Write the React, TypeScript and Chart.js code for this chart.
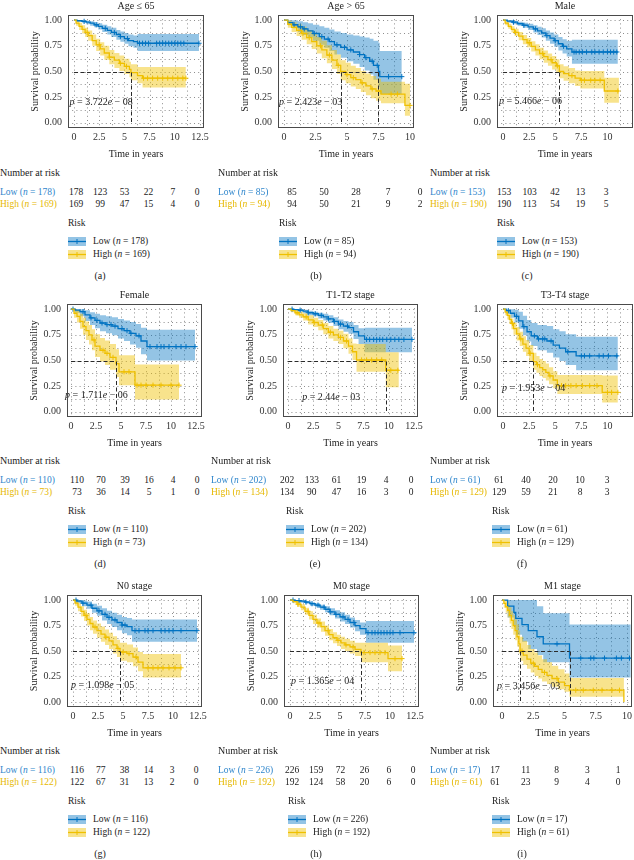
import React, { useEffect, useRef } from "react";
import { Chart, registerables } from "chart.js";

Chart.register(...registerables);

// ---------------- data ----------------
const panelTitles = ["Age ≤ 65", "Age > 65", "Male", "Female", "T1-T2 stage", "T3-T4 stage", "N0 stage", "M0 stage", "M1 stage"];
const panelLetters = ["(a)", "(b)", "(c)", "(d)", "(e)", "(f)", "(g)", "(h)", "(i)"];
const pMantissa = ["3.722", "2.423", "5.466", "1.711", "2.44", "1.953", "1.098", "1.365", "3.456"];
const pExponent = ["08", "03", "06", "06", "03", "04", "05", "04", "03"];
const pX = [-0.45, -0.4, -0.4, -0.6, 1.4, -0.1, -0.2, 0.1, -0.4];
const pY = [0.2, 0.2, 0.21, 0.165, 0.14, 0.23, 0.165, 0.2, 0.15];
const lowN = [178, 85, 153, 110, 202, 61, 116, 226, 17];
const highN = [169, 94, 190, 73, 134, 129, 122, 192, 61];
const xTickLong = [0, 2.5, 5, 7.5, 10, 12.5];
const xTickShort = [0, 2.5, 5, 7.5, 10];
const xTicks = [xTickLong, xTickShort, xTickShort, xTickLong, xTickLong, xTickShort, xTickLong, xTickLong, xTickShort];
const yTicks = [0, 0.25, 0.5, 0.75, 1];
const lowAtRisk = [
  [178, 123, 53, 22, 7, 0], [85, 50, 28, 7, 0], [153, 103, 42, 13, 3],
  [110, 70, 39, 16, 4, 0], [202, 133, 61, 19, 4, 0], [61, 40, 20, 10, 3],
  [116, 77, 38, 14, 3, 0], [226, 159, 72, 26, 6, 0], [17, 11, 8, 3, 1],
];
const highAtRisk = [
  [169, 99, 47, 15, 4, 0], [94, 50, 21, 9, 2], [190, 113, 54, 19, 5],
  [73, 36, 14, 5, 1, 0], [134, 90, 47, 16, 3, 0], [129, 59, 21, 8, 3],
  [122, 67, 31, 13, 2, 0], [192, 124, 58, 20, 6, 0], [61, 23, 9, 4, 0],
];
const lowEnd = [12.4, 9.35, 11.0, 12.4, 12.3, 11.0, 12.4, 12.4, 10.3];
const highEnd = [11.1, 10.0, 11.1, 10.8, 11.0, 11.0, 10.8, 11.2, 9.75];

// (a) Age <= 65
const aLowT = [0, 0.3, 0.8, 1.2, 1.6, 2.0, 2.4, 2.8, 3.3, 3.7, 4.2, 4.6, 5.0, 5.4, 5.9, 6.3];
const aLowS = [1, 0.994, 0.988, 0.98, 0.97, 0.955, 0.94, 0.92, 0.9, 0.88, 0.86, 0.84, 0.82, 0.8, 0.79, 0.775];
const aLowU = [1, 1, 1, 0.995, 0.99, 0.98, 0.97, 0.955, 0.94, 0.925, 0.905, 0.89, 0.875, 0.86, 0.85, 0.865];
const aLowL = [1, 0.985, 0.975, 0.96, 0.945, 0.93, 0.91, 0.885, 0.86, 0.835, 0.81, 0.79, 0.77, 0.745, 0.73, 0.7];
const aLowC = [1.0, 2.2, 3.1, 4.0, 4.6, 5.3, 6.5, 6.8, 7.1, 7.4, 8.2, 8.5, 8.8, 9.1, 9.4, 9.7, 10.0, 10.3, 10.6, 10.9, 12.4];
const aHighT = [0, 0.2, 0.5, 0.8, 1.1, 1.4, 1.8, 2.2, 2.6, 3.0, 3.5, 4.0, 4.5, 5.0, 5.5, 5.65, 6.3, 6.8];
const aHighS = [1, 0.97, 0.94, 0.91, 0.88, 0.85, 0.8, 0.76, 0.72, 0.68, 0.64, 0.61, 0.58, 0.55, 0.52, 0.49, 0.46, 0.435];
const aHighU = [1, 0.995, 0.975, 0.95, 0.925, 0.9, 0.86, 0.82, 0.785, 0.75, 0.71, 0.68, 0.655, 0.625, 0.595, 0.57, 0.545, 0.545];
const aHighL = [1, 0.945, 0.905, 0.87, 0.835, 0.8, 0.75, 0.7, 0.655, 0.615, 0.57, 0.535, 0.505, 0.475, 0.445, 0.415, 0.385, 0.345];
const aHighC = [1.3, 2.5, 3.5, 4.6, 5.2, 6.9, 7.3, 7.8, 8.3, 8.8, 9.3, 9.8, 10.3, 10.8, 11.1];

// (b) Age > 65
const bLowT = [0, 0.3, 0.7, 1.1, 1.5, 1.9, 2.3, 2.8, 3.2, 3.6, 4.0, 4.5, 5.0, 5.5, 6.0, 6.4, 6.8, 7.1, 7.5, 7.6];
const bLowS = [1, 0.975, 0.955, 0.935, 0.915, 0.895, 0.87, 0.84, 0.815, 0.79, 0.76, 0.735, 0.71, 0.69, 0.665, 0.635, 0.6, 0.56, 0.5, 0.45];
const bLowU = [1, 1, 1, 0.99, 0.98, 0.97, 0.955, 0.94, 0.925, 0.91, 0.89, 0.875, 0.86, 0.85, 0.84, 0.83, 0.82, 0.8, 0.78, 0.7];
const bLowL = [1, 0.95, 0.92, 0.885, 0.855, 0.83, 0.8, 0.76, 0.73, 0.7, 0.665, 0.635, 0.6, 0.575, 0.545, 0.51, 0.47, 0.42, 0.35, 0.28];
const bLowC = [0.8, 1.3, 1.6, 2.4, 3.0, 3.5, 4.2, 4.8, 5.3, 6.0, 6.5, 7.0, 7.4, 8.3, 9.35];
const bHighT = [0, 0.3, 0.6, 1.0, 1.4, 1.8, 2.2, 2.6, 3.0, 3.4, 3.8, 4.2, 4.5, 4.9, 5.3, 5.7, 6.1, 6.5, 6.9, 7.3, 7.7, 9.6];
const bHighS = [1, 0.96, 0.93, 0.9, 0.87, 0.83, 0.79, 0.75, 0.71, 0.66, 0.61, 0.56, 0.5, 0.47, 0.44, 0.42, 0.39, 0.36, 0.33, 0.31, 0.28, 0.17];
const bHighU = [1, 0.995, 0.98, 0.96, 0.935, 0.905, 0.87, 0.835, 0.8, 0.755, 0.71, 0.665, 0.61, 0.585, 0.555, 0.535, 0.505, 0.48, 0.455, 0.43, 0.4, 0.38];
const bHighL = [1, 0.925, 0.885, 0.845, 0.81, 0.765, 0.72, 0.675, 0.63, 0.58, 0.525, 0.475, 0.415, 0.385, 0.355, 0.33, 0.3, 0.27, 0.24, 0.215, 0.19, 0.07];
const bHighC = [1.5, 2.0, 2.9, 3.6, 4.3, 5.0, 5.5, 6.2, 7.0, 7.5, 8.5, 9.0, 10.0];

// (c) Male
const cLowT = [0, 0.4, 0.9, 1.4, 1.9, 2.4, 2.9, 3.3, 3.7, 4.1, 4.5, 4.9, 5.3, 5.7, 6.1, 6.6];
const cLowS = [1, 0.99, 0.98, 0.965, 0.95, 0.935, 0.915, 0.895, 0.875, 0.85, 0.825, 0.8, 0.77, 0.745, 0.72, 0.69];
const cLowU = [1, 1, 0.995, 0.985, 0.975, 0.965, 0.95, 0.935, 0.92, 0.9, 0.88, 0.86, 0.835, 0.815, 0.8, 0.81];
const cLowL = [1, 0.975, 0.96, 0.945, 0.925, 0.905, 0.88, 0.855, 0.83, 0.8, 0.77, 0.74, 0.705, 0.675, 0.645, 0.575];
const cLowC = [1.0, 2.0, 3.1, 4.2, 5.0, 5.8, 6.8, 7.0, 7.3, 7.6, 8.0, 8.5, 8.8, 9.2, 9.6, 10.0, 10.3, 10.6, 10.9];
const cHighT = [0, 0.2, 0.5, 0.8, 1.1, 1.5, 1.9, 2.3, 2.7, 3.1, 3.5, 3.9, 4.3, 4.7, 5.1, 5.4, 5.8, 6.3, 6.9, 7.4, 9.7];
const cHighS = [1, 0.97, 0.94, 0.91, 0.88, 0.845, 0.81, 0.78, 0.745, 0.71, 0.675, 0.645, 0.615, 0.585, 0.555, 0.5, 0.48, 0.46, 0.435, 0.415, 0.31];
const cHighU = [1, 0.99, 0.965, 0.94, 0.915, 0.885, 0.855, 0.825, 0.795, 0.765, 0.73, 0.705, 0.675, 0.65, 0.62, 0.57, 0.55, 0.535, 0.51, 0.505, 0.44];
const cHighL = [1, 0.95, 0.915, 0.88, 0.845, 0.805, 0.765, 0.735, 0.695, 0.655, 0.62, 0.585, 0.555, 0.52, 0.49, 0.435, 0.41, 0.385, 0.36, 0.335, 0.195];
const cHighC = [1.2, 2.5, 3.8, 4.6, 5.2, 6.6, 7.5, 7.8, 8.4, 8.8, 9.3, 11.0];

// (d) Female
const dLowT = [0, 0.4, 0.9, 1.4, 1.9, 2.4, 2.9, 3.5, 4.1, 4.7, 5.3, 5.9, 6.5, 7.0, 7.6];
const dLowS = [1, 0.99, 0.975, 0.945, 0.915, 0.89, 0.865, 0.85, 0.835, 0.81, 0.79, 0.765, 0.74, 0.69, 0.635];
const dLowU = [1, 1, 1, 0.99, 0.97, 0.955, 0.94, 0.93, 0.92, 0.905, 0.89, 0.875, 0.855, 0.82, 0.8];
const dLowL = [1, 0.965, 0.93, 0.885, 0.845, 0.815, 0.785, 0.765, 0.745, 0.715, 0.69, 0.655, 0.625, 0.56, 0.5];
const dLowC = [0.2, 1.2, 2.0, 2.6, 3.1, 3.6, 4.0, 4.4, 5.1, 5.6, 6.0, 6.8, 7.9, 8.6, 9.0, 9.3, 9.8, 10.5, 11.0, 11.5, 12.4];
const dHighT = [0, 0.3, 0.6, 0.9, 1.2, 1.5, 1.8, 2.1, 2.4, 2.9, 3.4, 3.9, 4.5, 4.8, 6.4];
const dHighS = [1, 0.96, 0.93, 0.88, 0.83, 0.79, 0.75, 0.7, 0.64, 0.6, 0.57, 0.53, 0.47, 0.39, 0.26];
const dHighU = [1, 1, 0.99, 0.955, 0.915, 0.88, 0.845, 0.805, 0.755, 0.72, 0.695, 0.66, 0.61, 0.55, 0.46];
const dHighL = [1, 0.915, 0.87, 0.81, 0.75, 0.7, 0.655, 0.6, 0.535, 0.49, 0.455, 0.41, 0.34, 0.26, 0.12];
const dHighC = [2.3, 3.2, 3.6, 4.2, 5.3, 5.8, 6.6, 7.0, 7.5, 8.2, 9.0, 10.0, 10.8];

// (e) T1-T2 stage
const eLowT = [0, 0.5, 1.0, 1.5, 2.0, 2.5, 3.0, 3.5, 4.0, 4.5, 5.0, 5.5, 6.0, 6.5, 7.0, 7.6];
const eLowS = [1, 0.995, 0.99, 0.98, 0.965, 0.955, 0.94, 0.925, 0.905, 0.88, 0.855, 0.835, 0.82, 0.78, 0.74, 0.705];
const eLowU = [1, 1, 1, 0.995, 0.985, 0.975, 0.965, 0.955, 0.94, 0.92, 0.9, 0.885, 0.875, 0.845, 0.815, 0.82];
const eLowL = [1, 0.985, 0.975, 0.96, 0.94, 0.93, 0.91, 0.89, 0.865, 0.835, 0.805, 0.78, 0.76, 0.71, 0.66, 0.58];
const eLowC = [0.4, 1.2, 2.0, 2.7, 3.3, 4.0, 4.6, 5.2, 5.9, 7.8, 8.1, 8.5, 8.8, 9.1, 9.4, 9.8, 10.2, 10.6, 11.0, 11.5, 12.3];
const eHighT = [0, 0.3, 0.7, 1.1, 1.5, 2.0, 2.5, 3.0, 3.5, 4.0, 4.5, 5.0, 5.5, 6.0, 6.4, 6.8, 9.7];
const eHighS = [1, 0.985, 0.965, 0.945, 0.925, 0.895, 0.87, 0.845, 0.81, 0.775, 0.75, 0.725, 0.69, 0.64, 0.585, 0.505, 0.405];
const eHighU = [1, 1, 0.99, 0.975, 0.96, 0.94, 0.915, 0.895, 0.865, 0.835, 0.81, 0.79, 0.76, 0.715, 0.665, 0.66, 0.58];
const eHighL = [1, 0.97, 0.94, 0.915, 0.89, 0.85, 0.825, 0.795, 0.755, 0.715, 0.69, 0.66, 0.62, 0.565, 0.505, 0.39, 0.24];
const eHighC = [0.9, 1.8, 2.6, 3.4, 4.2, 5.2, 5.8, 7.3, 7.8, 8.3, 8.8, 9.3, 10.2, 10.9];

// (f) T3-T4 stage
const fLowT = [0, 0.3, 0.7, 1.1, 1.5, 1.9, 2.3, 2.7, 3.3, 4.2, 4.8, 5.4, 6.0, 7.0];
const fLowS = [1, 0.985, 0.96, 0.93, 0.885, 0.83, 0.78, 0.74, 0.71, 0.69, 0.65, 0.62, 0.585, 0.545];
const fLowU = [1, 1, 1, 0.995, 0.975, 0.935, 0.895, 0.865, 0.845, 0.835, 0.805, 0.785, 0.755, 0.73];
const fLowL = [1, 0.955, 0.915, 0.87, 0.81, 0.745, 0.685, 0.64, 0.6, 0.575, 0.53, 0.495, 0.455, 0.405];
const fLowC = [0.5, 1.3, 2.0, 3.0, 3.4, 3.8, 4.0, 4.6, 6.2, 7.5, 7.8, 8.3, 9.2, 9.6, 10.1, 10.9];
const fHighT = [0, 0.2, 0.4, 0.6, 0.8, 1.0, 1.3, 1.6, 1.9, 2.2, 2.5, 2.9, 3.2, 3.5, 3.8, 4.1, 4.4, 4.8, 5.2, 9.5];
const fHighS = [1, 0.97, 0.94, 0.9, 0.86, 0.81, 0.76, 0.71, 0.66, 0.62, 0.57, 0.49, 0.46, 0.43, 0.41, 0.385, 0.35, 0.31, 0.255, 0.19];
const fHighU = [1, 0.995, 0.975, 0.945, 0.91, 0.87, 0.825, 0.78, 0.735, 0.7, 0.65, 0.575, 0.545, 0.515, 0.495, 0.47, 0.435, 0.395, 0.36, 0.355];
const fHighL = [1, 0.94, 0.9, 0.855, 0.805, 0.75, 0.695, 0.64, 0.585, 0.545, 0.495, 0.41, 0.38, 0.35, 0.33, 0.305, 0.27, 0.23, 0.175, 0.09];
const fHighC = [0.9, 1.7, 2.6, 3.3, 4.5, 5.6, 6.0, 6.5, 7.0, 7.6, 8.3, 9.0, 10.0, 10.4, 11.0];

// (g) N0 stage
const gLowT = [0, 0.4, 0.9, 1.4, 1.9, 2.4, 2.9, 3.4, 3.9, 4.4, 4.9, 5.4, 5.9];
const gLowS = [1, 0.99, 0.97, 0.95, 0.92, 0.895, 0.86, 0.83, 0.805, 0.78, 0.755, 0.74, 0.7];
const gLowU = [1, 1, 0.995, 0.985, 0.965, 0.945, 0.92, 0.895, 0.875, 0.855, 0.835, 0.825, 0.81];
const gLowL = [1, 0.97, 0.94, 0.915, 0.875, 0.845, 0.8, 0.765, 0.735, 0.705, 0.675, 0.655, 0.59];
const gLowC = [0.3, 1.0, 1.8, 2.6, 3.2, 3.6, 4.2, 4.9, 5.2, 6.2, 6.6, 7.2, 7.5, 8.0, 8.8, 9.2, 9.6, 10.0, 10.8, 12.4];
const gHighT = [0, 0.2, 0.5, 0.8, 1.1, 1.4, 1.7, 2.0, 2.4, 2.8, 3.2, 3.6, 4.0, 4.4, 4.7, 5.4, 6.0, 6.5, 7.0];
const gHighS = [1, 0.97, 0.93, 0.89, 0.85, 0.81, 0.77, 0.735, 0.7, 0.665, 0.635, 0.6, 0.56, 0.525, 0.49, 0.475, 0.44, 0.39, 0.335];
const gHighU = [1, 0.995, 0.97, 0.94, 0.905, 0.87, 0.835, 0.8, 0.77, 0.74, 0.71, 0.68, 0.645, 0.61, 0.58, 0.565, 0.535, 0.49, 0.47];
const gHighL = [1, 0.945, 0.89, 0.84, 0.795, 0.75, 0.705, 0.67, 0.63, 0.59, 0.56, 0.52, 0.475, 0.44, 0.405, 0.39, 0.35, 0.3, 0.24];
const gHighC = [1.3, 2.2, 3.3, 4.5, 5.0, 5.6, 6.3, 7.5, 8.0, 8.5, 9.0, 9.6, 10.2, 10.8];

// (h) M0 stage
const hLowT = [0, 0.5, 1.0, 1.5, 2.0, 2.5, 3.0, 3.5, 4.0, 4.5, 5.0, 5.5, 6.0, 6.5, 7.0, 7.6];
const hLowS = [1, 0.995, 0.99, 0.98, 0.965, 0.95, 0.93, 0.91, 0.885, 0.86, 0.835, 0.81, 0.78, 0.75, 0.72, 0.68];
const hLowU = [1, 1, 1, 0.99, 0.98, 0.97, 0.955, 0.94, 0.92, 0.9, 0.88, 0.855, 0.83, 0.805, 0.78, 0.795];
const hLowL = [1, 0.985, 0.975, 0.965, 0.945, 0.93, 0.905, 0.88, 0.85, 0.82, 0.79, 0.765, 0.73, 0.695, 0.66, 0.58];
const hLowC = [0.3, 0.9, 1.6, 2.2, 2.8, 3.4, 4.0, 4.6, 5.3, 5.8, 6.4, 7.8, 8.2, 8.5, 8.8, 9.1, 9.4, 9.7, 10.0, 10.3, 11.0, 12.4];
const hHighT = [0, 0.3, 0.7, 1.1, 1.5, 1.9, 2.3, 2.7, 3.1, 3.5, 3.9, 4.3, 4.7, 5.1, 5.5, 6.0, 6.5, 7.1, 9.8];
const hHighS = [1, 0.985, 0.96, 0.93, 0.89, 0.85, 0.81, 0.775, 0.74, 0.7, 0.66, 0.63, 0.605, 0.58, 0.56, 0.54, 0.515, 0.485, 0.425];
const hHighU = [1, 1, 0.985, 0.96, 0.925, 0.89, 0.855, 0.82, 0.79, 0.75, 0.715, 0.685, 0.66, 0.64, 0.62, 0.6, 0.58, 0.58, 0.555];
const hHighL = [1, 0.97, 0.935, 0.9, 0.855, 0.81, 0.765, 0.73, 0.69, 0.65, 0.605, 0.575, 0.55, 0.52, 0.5, 0.475, 0.45, 0.39, 0.3];
const hHighC = [0.8, 1.8, 2.9, 3.8, 4.8, 5.6, 6.3, 7.4, 8.0, 8.5, 9.0, 9.5, 10.5, 11.2];

// (i) M1 stage
const iLowT = [0, 0.45, 0.95, 1.1, 1.6, 2.1, 2.8, 3.3, 5.4];
const iLowS = [1, 0.94, 0.88, 0.82, 0.76, 0.7, 0.64, 0.57, 0.43];
const iLowU = [1, 1, 1, 1, 1, 1, 0.94, 0.87, 0.76];
const iLowL = [1, 0.83, 0.74, 0.66, 0.59, 0.52, 0.46, 0.39, 0.24];
const iLowC = [4.4, 6.3, 7.1, 7.35, 8.2, 9.15, 9.55, 10.2];
const iHighT = [0, 0.15, 0.3, 0.45, 0.6, 0.75, 0.9, 1.05, 1.2, 1.35, 1.45, 1.7, 2.0, 2.3, 2.6, 2.9, 3.2, 3.6, 4.0, 4.5, 5.0, 5.4, 9.75];
const iHighS = [1, 0.967, 0.934, 0.9, 0.85, 0.8, 0.75, 0.7, 0.64, 0.57, 0.5, 0.46, 0.42, 0.38, 0.35, 0.32, 0.29, 0.26, 0.23, 0.195, 0.16, 0.115, 0];
const iHighU = [1, 1, 0.99, 0.97, 0.93, 0.89, 0.85, 0.81, 0.76, 0.7, 0.64, 0.6, 0.56, 0.52, 0.485, 0.455, 0.42, 0.39, 0.355, 0.32, 0.28, 0.235, 0];
const iHighL = [1, 0.925, 0.875, 0.83, 0.77, 0.715, 0.66, 0.605, 0.545, 0.475, 0.405, 0.365, 0.325, 0.29, 0.255, 0.23, 0.2, 0.175, 0.15, 0.125, 0.1, 0.05, 0];
const iHighC = [1.6, 2.5, 3.4, 4.4, 5.9, 6.5, 7.3, 8.0, 8.8, 9.4];

const lowT = [aLowT, bLowT, cLowT, dLowT, eLowT, fLowT, gLowT, hLowT, iLowT];
const lowS = [aLowS, bLowS, cLowS, dLowS, eLowS, fLowS, gLowS, hLowS, iLowS];
const lowU = [aLowU, bLowU, cLowU, dLowU, eLowU, fLowU, gLowU, hLowU, iLowU];
const lowL = [aLowL, bLowL, cLowL, dLowL, eLowL, fLowL, gLowL, hLowL, iLowL];
const lowC = [aLowC, bLowC, cLowC, dLowC, eLowC, fLowC, gLowC, hLowC, iLowC];
const highT = [aHighT, bHighT, cHighT, dHighT, eHighT, fHighT, gHighT, hHighT, iHighT];
const highS = [aHighS, bHighS, cHighS, dHighS, eHighS, fHighS, gHighS, hHighS, iHighS];
const highU = [aHighU, bHighU, cHighU, dHighU, eHighU, fHighU, gHighU, hHighU, iHighU];
const highL = [aHighL, bHighL, cHighL, dHighL, eHighL, fHighL, gHighL, hHighL, iHighL];
const highC = [aHighC, bHighC, cHighC, dHighC, eHighC, fHighC, gHighC, hHighC, iHighC];

// ---------------- layout & style ----------------
const FONT = '"Liberation Serif", "Times New Roman", "DejaVu Serif", serif';
const LOW_LINE = "#0073C2";
const HIGH_LINE = "#EFC000";
const LOW_FILL = "rgba(0,115,194,0.42)";
const HIGH_FILL = "rgba(239,192,0,0.45)";
const LOW_TEXT = "#2f86cc";
const HIGH_TEXT = "#e6b800";
const TEXT = "#222";

// frame [left, top, right, bottom] in page pixels
const frames = [
  [68, 15, 204, 128], [278, 15, 414, 128], [497, 15, 633, 128],
  [67, 304, 202, 417], [283, 304, 418, 417], [497, 304, 633, 417],
  [67, 595, 202, 707], [284, 595, 419, 707], [493, 595, 632, 707],
];
const xRanges = [
  [-0.6, 12.9], [-0.48, 10.32], [-0.58, 12.45],
  [-0.4, 13.1], [-0.5, 12.9], [-0.58, 12.45],
  [-0.6, 12.9], [-0.6, 12.9], [-0.72, 10.4],
];
const rowTop = [0, 288, 578];
const tableLabelX = [0, 218, 430, 0, 211, 430, 0, 218, 430];
const tableX0 = [76, 292, 504, 77, 287, 499, 77, 292, 495];
const tableStep = [24.2, 32, 25.5, 24, 24.8, 27, 23.8, 24.2, 30.8];
const legendX = [68, 279, 497, 68, 286, 492, 68, 288, 492];
const captionX = [100, 316, 527, 100, 315, 522, 100, 316, 522];

const Y_AXIS_W = 68;
const PAD_TOP = 20;
const PAD_RIGHT = 14;
const X_AXIS_H = 20;
const PAD_BOTTOM = 16;

function stepAt(ts: number[], ss: number[], t: number) {
  let v = ss[0];
  for (let k = 0; k < ts.length; k++) {
    if (ts[k] <= t) v = ss[k];
    else break;
  }
  return v;
}

function medianOf(ts: number[], ss: number[]) {
  for (let k = 0; k < ts.length; k++) if (ss[k] <= 0.5) return ts[k];
  return null;
}

function curvePts(ts: number[], vs: number[], end: number) {
  const pts = ts.map((t, k) => ({ x: t, y: vs[k] }));
  pts.push({ x: end, y: vs[vs.length - 1] });
  return pts;
}

function buildConfig(i: number): any {
  const [xmin, xmax] = xRanges[i];
  const majors = xTicks[i];
  const censor = (cs: number[], ts: number[], ss: number[]) => cs.map((c) => ({ x: c, y: stepAt(ts, ss, c) }));
  const band = { pointRadius: 0, borderWidth: 0, borderColor: "transparent", stepped: "before" };
  const medians = [medianOf(lowT[i], lowS[i]), medianOf(highT[i], highS[i])].filter((m) => m !== null) as number[];

  const plugin = {
    id: "kmPanel",
    beforeDraw(chart: any) {
      const { ctx, chartArea: a, scales } = chart;
      const x = scales.x, y = scales.y;
      ctx.save();
      ctx.beginPath();
      ctx.rect(a.left, a.top, a.right - a.left, a.bottom - a.top);
      ctx.clip();
      ctx.strokeStyle = "#8c8c8c";
      ctx.lineWidth = 1;
      ctx.setLineDash([1, 3.2]);
      for (let k = 0; k * 1.25 <= xmax; k++) {
        const px = Math.round(x.getPixelForValue(k * 1.25)) + 0.5;
        ctx.beginPath();
        ctx.moveTo(px, a.top);
        ctx.lineTo(px, a.bottom);
        ctx.stroke();
      }
      for (let k = 0; k <= 8; k++) {
        const py = Math.round(y.getPixelForValue(k * 0.125)) + 0.5;
        ctx.beginPath();
        ctx.moveTo(a.left, py);
        ctx.lineTo(a.right, py);
        ctx.stroke();
      }
      ctx.restore();
    },
    afterDatasetsDraw(chart: any) {
      const { ctx, scales } = chart;
      const x = scales.x, y = scales.y;
      ctx.save();
      if (medians.length) {
        ctx.strokeStyle = "#2a2a2a";
        ctx.lineWidth = 1;
        ctx.setLineDash([4, 2.5]);
        const y50 = Math.round(y.getPixelForValue(0.5)) + 0.5;
        ctx.beginPath();
        ctx.moveTo(x.getPixelForValue(0), y50);
        ctx.lineTo(x.getPixelForValue(Math.max(...medians)), y50);
        ctx.stroke();
        for (const m of medians) {
          const px = Math.round(x.getPixelForValue(m)) + 0.5;
          ctx.beginPath();
          ctx.moveTo(px, y50);
          ctx.lineTo(px, y.getPixelForValue(0));
          ctx.stroke();
        }
      }
      ctx.setLineDash([]);
      const parts: [string, boolean][] = [["p", true], [" = " + pMantissa[i], false], ["e", true], [" − " + pExponent[i], false]];
      let px = x.getPixelForValue(pX[i]);
      const py = y.getPixelForValue(pY[i]);
      ctx.fillStyle = TEXT;
      ctx.textBaseline = "middle";
      ctx.textAlign = "left";
      for (const [s, it] of parts) {
        ctx.font = (it ? "italic " : "") + "10px " + FONT;
        ctx.fillText(s, px, py);
        px += ctx.measureText(s).width;
      }
      ctx.restore();
    },
    afterDraw(chart: any) {
      const { ctx, chartArea: a } = chart;
      ctx.save();
      ctx.strokeStyle = "#4a4a4a";
      ctx.lineWidth = 1;
      ctx.strokeRect(a.left + 0.5, a.top + 0.5, a.right - a.left - 1, a.bottom - a.top - 1);
      ctx.fillStyle = TEXT;
      ctx.font = "10px " + FONT;
      ctx.textAlign = "center";
      ctx.textBaseline = "middle";
      const cx = (a.left + a.right) / 2;
      ctx.fillText(panelTitles[i], cx, a.top - 9);
      ctx.fillText("Time in years", cx, a.bottom + 26);
      ctx.translate(a.left - 33, (a.top + a.bottom) / 2);
      ctx.rotate(-Math.PI / 2);
      ctx.fillText("Survival probability", 0, 0);
      ctx.restore();
    },
  };

  return {
    type: "line",
    data: {
      datasets: [
        { data: censor(highC[i], highT[i], highS[i]), showLine: false, pointStyle: "cross", pointRadius: 2.6, pointBorderWidth: 1, pointBorderColor: HIGH_LINE, pointBackgroundColor: HIGH_LINE, borderColor: HIGH_LINE },
        { data: curvePts(highT[i], highS[i], highEnd[i]), borderColor: HIGH_LINE, borderWidth: 1.3, pointRadius: 0, stepped: "before", fill: false },
        { data: censor(lowC[i], lowT[i], lowS[i]), showLine: false, pointStyle: "cross", pointRadius: 2.6, pointBorderWidth: 1, pointBorderColor: LOW_LINE, pointBackgroundColor: LOW_LINE, borderColor: LOW_LINE },
        { data: curvePts(lowT[i], lowS[i], lowEnd[i]), borderColor: LOW_LINE, borderWidth: 1.3, pointRadius: 0, stepped: "before", fill: false },
        { ...band, data: curvePts(highT[i], highU[i], highEnd[i]), fill: false },
        { ...band, data: curvePts(highT[i], highL[i], highEnd[i]), fill: "-1", backgroundColor: HIGH_FILL },
        { ...band, data: curvePts(lowT[i], lowU[i], lowEnd[i]), fill: false },
        { ...band, data: curvePts(lowT[i], lowL[i], lowEnd[i]), fill: "-1", backgroundColor: LOW_FILL },
      ],
    },
    options: {
      animation: false,
      responsive: false,
      maintainAspectRatio: false,
      events: [],
      devicePixelRatio: 1,
      layout: { padding: { left: 0, top: PAD_TOP, right: PAD_RIGHT, bottom: PAD_BOTTOM } },
      plugins: {
        legend: { display: false },
        tooltip: { enabled: false },
        title: { display: false },
        filler: { drawTime: "beforeDatasetsDraw", propagate: false },
      },
      scales: {
        x: {
          type: "linear",
          min: xmin,
          max: xmax,
          grid: { display: false, drawTicks: false, tickLength: 0 },
          border: { display: false },
          afterBuildTicks: (s: any) => {
            s.ticks = majors.map((v) => ({ value: v }));
          },
          afterFit: (s: any) => {
            s.height = X_AXIS_H;
            s.paddingLeft = 0;
            s.paddingRight = 0;
          },
          ticks: {
            autoSkip: false,
            maxRotation: 0,
            padding: 3,
            color: "#333",
            font: { family: FONT, size: 10 },
            callback: (v: any) => String(v),
          },
        },
        y: {
          type: "linear",
          min: -0.05,
          max: 1.05,
          grid: { display: false, drawTicks: false, tickLength: 0 },
          border: { display: false },
          afterBuildTicks: (s: any) => {
            s.ticks = yTicks.map((v) => ({ value: v }));
          },
          afterFit: (s: any) => {
            s.width = Y_AXIS_W;
            s.paddingTop = 0;
            s.paddingBottom = 0;
          },
          ticks: {
            autoSkip: false,
            padding: 6,
            color: "#333",
            font: { family: FONT, size: 10 },
            callback: (v: any) => Number(v).toFixed(2),
          },
        },
      },
    },
    plugins: [plugin],
  };
}

function Txt(props: { x: number; y: number; color?: string; center?: boolean; size?: number; children: any }) {
  const { x, y, color, center, size, children } = props;
  return (
    <div
      style={{
        position: "absolute",
        left: x,
        top: y - 7,
        lineHeight: "14px",
        height: 14,
        fontSize: size || 9.5,
        fontFamily: FONT,
        color: color || TEXT,
        whiteSpace: "nowrap",
        transform: center ? "translateX(-50%)" : undefined,
      }}
    >
      {children}
    </div>
  );
}

function Swatch(props: { x: number; y: number; fill: string; line: string }) {
  const { x, y, fill, line } = props;
  return (
    <svg width={18} height={9} style={{ position: "absolute", left: x, top: y - 4.5 }}>
      <rect x={0} y={0} width={18} height={9} fill={fill} />
      <line x1={0} y1={4.5} x2={18} y2={4.5} stroke={line} strokeWidth={1.3} />
      <line x1={9} y1={2} x2={9} y2={7} stroke={line} strokeWidth={1} />
    </svg>
  );
}

function KMPanel({ i }: { i: number }) {
  const ref = useRef<HTMLCanvasElement | null>(null);
  const [L, T, R, B] = frames[i];
  const cw = Y_AXIS_W + (R - L) + PAD_RIGHT;
  const ch = PAD_TOP + (B - T) + X_AXIS_H + PAD_BOTTOM;

  useEffect(() => {
    const canvas = ref.current;
    if (!canvas) return;
    const chart = new Chart(canvas, buildConfig(i));
    return () => chart.destroy();
  }, [i]);

  const y0 = rowTop[Math.floor(i / 3)];
  const lx = tableLabelX[i];
  return (
    <>
      <canvas
        ref={ref}
        width={cw}
        height={ch}
        style={{ position: "absolute", left: L - Y_AXIS_W, top: T - PAD_TOP, width: cw, height: ch }}
      />
      <Txt x={lx} y={y0 + 173} size={10}>Number at risk</Txt>
      <Txt x={lx} y={y0 + 192} color={LOW_TEXT}>Low (<i>n</i> = {lowN[i]})</Txt>
      <Txt x={lx} y={y0 + 204} color={HIGH_TEXT}>High (<i>n</i> = {highN[i]})</Txt>
      {lowAtRisk[i].map((v, k) => (
        <Txt key={"l" + k} x={tableX0[i] + k * tableStep[i]} y={y0 + 192} center>{v}</Txt>
      ))}
      {highAtRisk[i].map((v, k) => (
        <Txt key={"h" + k} x={tableX0[i] + k * tableStep[i]} y={y0 + 204} center>{v}</Txt>
      ))}
      <Txt x={legendX[i]} y={y0 + 223}>Risk</Txt>
      <Swatch x={legendX[i]} y={y0 + 241} fill={LOW_FILL} line={LOW_LINE} />
      <Swatch x={legendX[i]} y={y0 + 254} fill={HIGH_FILL} line={HIGH_LINE} />
      <Txt x={legendX[i] + 25} y={y0 + 241}>Low (<i>n</i> = {lowN[i]})</Txt>
      <Txt x={legendX[i] + 25} y={y0 + 254}>High (<i>n</i> = {highN[i]})</Txt>
      <Txt x={captionX[i]} y={y0 + 276} center size={10}>{panelLetters[i]}</Txt>
    </>
  );
}

export default function App() {
  return (
    <div
      style={{
        position: "absolute",
        left: 0,
        top: 0,
        width: 634,
        height: 860,
        overflow: "hidden",
        background: "#fff",
      }}
    >
      {panelTitles.map((_, i) => (
        <KMPanel key={i} i={i} />
      ))}
    </div>
  );
}
